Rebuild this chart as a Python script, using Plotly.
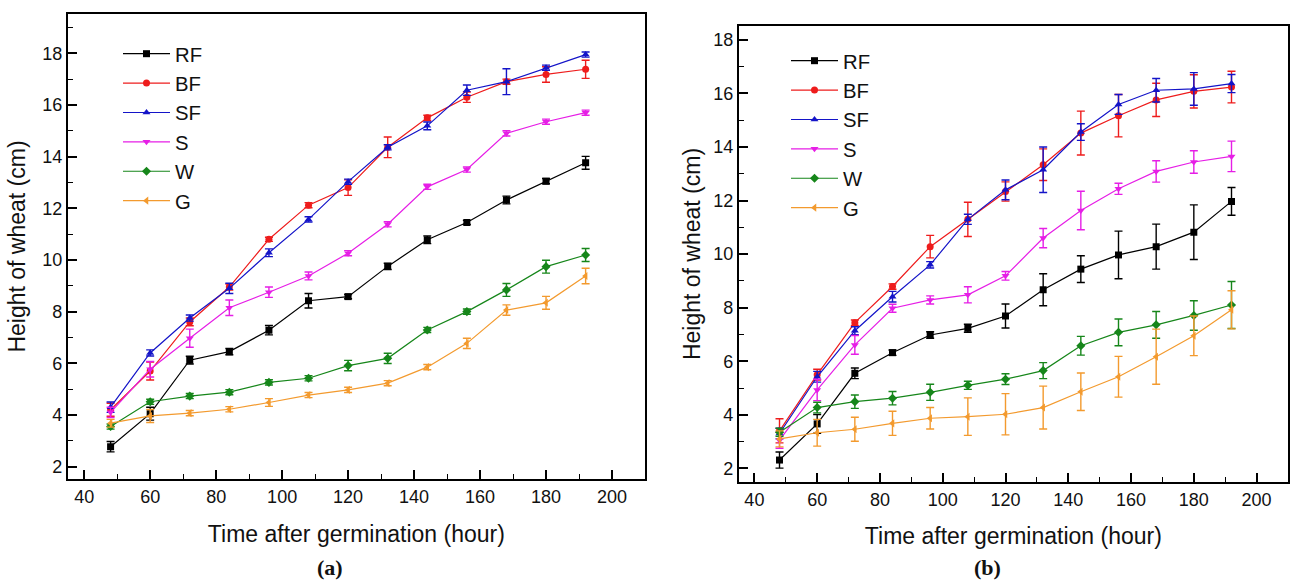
import plotly.graph_objects as go

hours = [48, 60, 72, 84, 96, 108, 120, 132, 144, 156, 168, 180, 192]
series_names = ["RF", "BF", "SF", "S", "W", "G"]

# Panel (a)
a_RF = [2.77, 4.05, 6.12, 6.45, 7.28, 8.42, 8.58, 9.75, 10.78, 11.45, 12.32, 13.05, 13.76]
a_RF_err = [0.2, 0.25, 0.15, 0.12, 0.18, 0.28, 0.08, 0.12, 0.15, 0.08, 0.15, 0.1, 0.25]
a_BF = [4.2, 5.7, 7.6, 8.95, 10.8, 12.12, 12.8, 14.36, 15.5, 16.3, 16.9, 17.18, 17.38]
a_BF_err = [0.25, 0.35, 0.15, 0.12, 0.08, 0.1, 0.3, 0.4, 0.1, 0.2, 0.1, 0.3, 0.35]
a_SF = [4.3, 6.4, 7.75, 8.9, 10.28, 11.57, 13.03, 14.36, 15.19, 16.57, 16.9, 17.44, 17.95]
a_SF_err = [0.2, 0.12, 0.12, 0.2, 0.15, 0.1, 0.1, 0.1, 0.15, 0.2, 0.5, 0.1, 0.1]
a_S = [4.1, 5.77, 6.97, 8.15, 8.75, 9.38, 10.26, 11.38, 12.83, 13.5, 14.9, 15.35, 15.7]
a_S_err = [0.2, 0.3, 0.35, 0.3, 0.2, 0.15, 0.1, 0.1, 0.1, 0.1, 0.1, 0.1, 0.1]
a_W = [3.55, 4.51, 4.73, 4.88, 5.26, 5.42, 5.91, 6.19, 7.29, 8.0, 8.84, 9.74, 10.19]
a_W_err = [0.1, 0.1, 0.1, 0.1, 0.1, 0.1, 0.2, 0.2, 0.1, 0.1, 0.25, 0.25, 0.25]
a_G = [3.68, 3.96, 4.07, 4.22, 4.48, 4.77, 4.97, 5.23, 5.85, 6.77, 8.06, 8.34, 9.38]
a_G_err = [0.15, 0.25, 0.1, 0.1, 0.15, 0.1, 0.1, 0.1, 0.1, 0.2, 0.2, 0.25, 0.3]

# Panel (b)
b_RF = [2.31, 3.66, 5.55, 6.32, 6.98, 7.23, 7.69, 8.67, 9.44, 9.97, 10.28, 10.82, 11.97]
b_RF_err = [0.3, 0.35, 0.2, 0.1, 0.12, 0.15, 0.45, 0.6, 0.5, 0.89, 0.84, 1.02, 0.52]
b_BF = [3.4, 5.5, 7.44, 8.79, 10.28, 11.3, 12.34, 13.34, 14.52, 15.17, 15.76, 16.08, 16.24]
b_BF_err = [0.45, 0.2, 0.1, 0.1, 0.42, 0.64, 0.36, 0.59, 0.82, 0.79, 0.62, 0.62, 0.59]
b_SF = [3.3, 5.42, 7.14, 8.41, 9.6, 11.3, 12.4, 13.15, 14.56, 15.59, 16.12, 16.17, 16.37]
b_SF_err = [0.2, 0.2, 0.15, 0.2, 0.12, 0.19, 0.37, 0.85, 0.31, 0.37, 0.44, 0.61, 0.34]
b_S = [3.05, 4.93, 6.61, 7.98, 8.29, 8.48, 9.19, 10.6, 11.63, 12.44, 13.09, 13.44, 13.65]
b_S_err = [0.3, 0.4, 0.35, 0.15, 0.15, 0.3, 0.16, 0.36, 0.72, 0.21, 0.4, 0.42, 0.57]
b_W = [3.35, 4.27, 4.49, 4.62, 4.84, 5.1, 5.33, 5.65, 6.58, 7.08, 7.36, 7.71, 8.1]
b_W_err = [0.15, 0.2, 0.25, 0.25, 0.3, 0.15, 0.2, 0.3, 0.35, 0.5, 0.5, 0.55, 0.88]
b_G = [3.1, 3.33, 3.46, 3.68, 3.87, 3.93, 4.02, 4.27, 4.86, 5.42, 6.17, 6.95, 7.92]
b_G_err = [0.3, 0.5, 0.45, 0.45, 0.4, 0.7, 0.77, 0.8, 0.7, 0.76, 1.03, 0.74, 0.71]

x_tick_vals = [40, 60, 80, 100, 120, 140, 160, 180, 200]
y_tick_vals = [2, 4, 6, 8, 10, 12, 14, 16, 18]
x_title = "Time after germination (hour)"
y_title = "Height of wheat (cm)"
panel_labels = ["(a)", "(b)"]

colors = ["#000000", "#EE1C1C", "#1414C8", "#E61EE6", "#16861A", "#F39A2E"]
symbols = ["square", "circle", "triangle-up", "triangle-down", "diamond", "triangle-left"]

panel_a = [(a_RF, a_RF_err), (a_BF, a_BF_err), (a_SF, a_SF_err),
           (a_S, a_S_err), (a_W, a_W_err), (a_G, a_G_err)]
panel_b = [(b_RF, b_RF_err), (b_BF, b_BF_err), (b_SF, b_SF_err),
           (b_S, b_S_err), (b_W, b_W_err), (b_G, b_G_err)]

FONT = "Liberation Sans, Arial, sans-serif"

fig = go.Figure()
for p, (panel, xa, ya, lg) in enumerate([(panel_a, "x", "y", "legend"),
                                          (panel_b, "x2", "y2", "legend2")]):
    for i, (vals, errs) in enumerate(panel):
        fig.add_trace(go.Scatter(
            x=hours, y=vals, name=series_names[i], mode="lines+markers",
            xaxis=xa, yaxis=ya, legend=lg,
            line=dict(color=colors[i], width=1.2),
            marker=dict(symbol=symbols[i], size=7, color=colors[i],
                        line=dict(width=0)),
            error_y=dict(type="data", array=errs, visible=True,
                         color=colors[i], thickness=1.4, width=4),
        ))

W, H = 1291, 583
def px_x(v):
    return v / W
def px_y(v):
    return 1 - v / H

axis_common = dict(
    showline=True, linecolor="black", linewidth=1.8, mirror=True,
    ticks="inside", tickcolor="black", tickwidth=1.6, ticklen=9,
    showgrid=False, zeroline=False,
    tickfont=dict(family=FONT, size=18, color="#111"),
    title_font=dict(family=FONT, size=23, color="#111"),
)

xaxis_common = dict(axis_common, range=[35, 210], tickmode="array",
                    tickvals=x_tick_vals,
                    minor=dict(ticks="inside", ticklen=5, tickwidth=1.4,
                               tickcolor="black", tickmode="linear",
                               tick0=30, dtick=10, showgrid=False))

legend_font = dict(family=FONT, size=20.3, color="#111")

fig.update_layout(
    width=W, height=H,
    margin=dict(l=0, r=0, t=0, b=0),
    paper_bgcolor="white", plot_bgcolor="white",
    xaxis=dict(xaxis_common, domain=[px_x(67.7), px_x(645)], anchor="y",
               title=dict(text=x_title, standoff=20)),
    yaxis=dict(axis_common, domain=[px_y(479), px_y(14)], anchor="x",
               range=[1.52, 19.52], tickmode="array", tickvals=y_tick_vals,
               minor=dict(ticks="inside", ticklen=5, tickwidth=1.4,
                          tickcolor="black", tickmode="linear",
                          tick0=1, dtick=2, showgrid=False),
               title=dict(text=y_title, standoff=10)),
    xaxis2=dict(xaxis_common, domain=[px_x(738.7), px_x(1288)], anchor="y2",
                title=dict(text=x_title, standoff=19)),
    yaxis2=dict(axis_common, domain=[px_y(482), px_y(26)], anchor="x2",
                range=[1.49, 18.52], tickmode="array", tickvals=y_tick_vals,
                minor=dict(ticks="inside", ticklen=5, tickwidth=1.4,
                           tickcolor="black", tickmode="linear",
                           tick0=1, dtick=2, showgrid=False),
                title=dict(text=y_title, standoff=6)),
    legend=dict(x=px_x(118), y=px_y(34), xanchor="left", yanchor="top",
                bgcolor="rgba(0,0,0,0)", font=legend_font,
                itemwidth=47, tracegroupgap=0, borderwidth=0),
    legend2=dict(x=px_x(786), y=px_y(41), xanchor="left", yanchor="top",
                 bgcolor="rgba(0,0,0,0)", font=legend_font,
                 itemwidth=47, tracegroupgap=0, borderwidth=0),
    showlegend=True,
)

for label, cx in zip(panel_labels, [330, 987]):
    fig.add_annotation(text="<b>" + label + "</b>", xref="paper", yref="paper",
                       x=px_x(cx), y=px_y(567), showarrow=False,
                       xanchor="center", yanchor="middle",
                       font=dict(family="Liberation Serif, Times New Roman, serif",
                                 size=22, color="#111"))

# Remove the browser's default 8px body margin so the figure fills the window.
fig.write_html("out.html",
               config={"displayModeBar": False},
               post_script="document.body.style.margin='0';document.body.style.overflow='hidden';")
